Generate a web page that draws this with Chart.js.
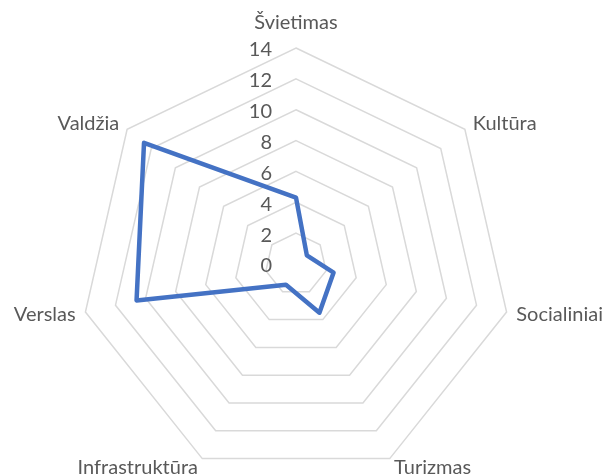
<!DOCTYPE html>
<html lang="lt">
<head>
<meta charset="utf-8">
<script src="https://cdn.jsdelivr.net/npm/chart.js@4/dist/chart.umd.min.js"></script>
<style>
  html, body { margin: 0; padding: 0; background: #ffffff; }
  #wrap { width: 608px; height: 476px; }
</style>
</head>
<body>
<div id="wrap"><canvas id="radar" width="608" height="476"></canvas></div>
<script>
// Kategorijos ir reikšmės (nuskaityta iš paveikslo)
const kategorijos = ["Švietimas", "Kultūra", "Socialiniai", "Turizmas", "Infrastruktūra", "Verslas", "Valdžia"];
const reiksmes = [4.3, 0.9, 2.5, 3.5, 1.5, 10.6, 12.6];
const skalesMin = 0;
const skalesMax = 14;
const skalesZingsnis = 2;

const SRIFTAS = "Lato, 'Open Sans', sans-serif";
const TEKSTO_SPALVA = "#595959";

// Centras ir spindulys kaip Excel diagramoje
function nustatytiGeometrija(scale) {
  scale.xCenter = 296;
  scale.yCenter = 264;
  scale.drawingArea = 216;
}

// Ašių pavadinimai ir skalės žymės piešiami patys, bet pagal skalės koordinates
const etikeciuPlugin = {
  id: "etiketes",
  afterDraw(chart) {
    const scale = chart.scales.r;
    const ctx = chart.ctx;
    ctx.save();
    ctx.fillStyle = TEKSTO_SPALVA;
    ctx.font = "20px " + SRIFTAS;
    ctx.textBaseline = "middle";

    kategorijos.forEach((pav, i) => {
      const p = scale.getPointPosition(i, scale.drawingArea + 10);
      const kampas = scale.getIndexAngle(i) - Math.PI / 2;
      const c = Math.cos(kampas);
      let y = p.y;
      if (Math.abs(c) < 0.01) {
        ctx.textAlign = "center";
        y -= 15;
      } else {
        ctx.textAlign = c > 0 ? "left" : "right";
      }
      ctx.fillText(pav, p.x, y);
    });

    ctx.textAlign = "right";
    scale.ticks.forEach((t) => {
      const d = scale.getDistanceFromCenterForValue(t.value);
      ctx.fillText(String(t.value), scale.xCenter - 24, scale.yCenter - d + 2);
    });
    ctx.restore();
  },
};

new Chart(document.getElementById("radar"), {
  type: "radar",
  data: {
    labels: kategorijos,
    datasets: [
      {
        data: reiksmes,
        borderColor: "#4472c4",
        borderWidth: 4.5,
        borderJoinStyle: "round",
        backgroundColor: "rgba(0,0,0,0)",
        fill: false,
        pointRadius: 0,
        tension: 0,
      },
    ],
  },
  options: {
    responsive: false,
    animation: false,
    layout: { padding: 0 },
    plugins: {
      legend: { display: false },
      tooltip: { enabled: false },
    },
    scales: {
      r: {
        min: skalesMin,
        max: skalesMax,
        ticks: { stepSize: skalesZingsnis, display: false },
        grid: { color: "#d9d9d9", lineWidth: 1.5 },
        angleLines: { display: false },
        pointLabels: { display: false },
        afterFit: nustatytiGeometrija,
      },
    },
  },
  plugins: [etikeciuPlugin],
});
</script>
</body>
</html>
